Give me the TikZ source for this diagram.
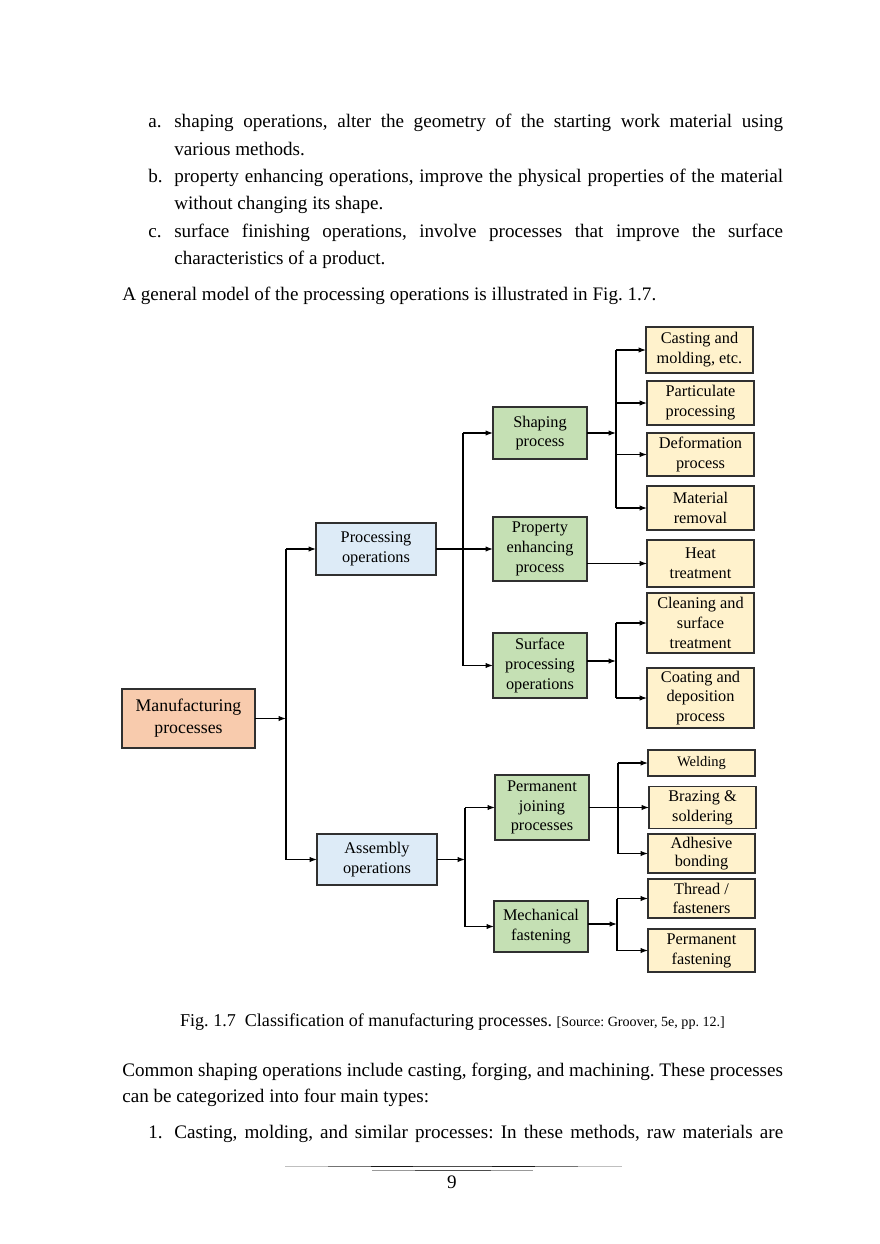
\documentclass[tikz,border=0pt]{standalone}
\usepackage{fontspec}
\setmainfont{Liberation Serif}
\usetikzlibrary{arrows.meta}
\frenchspacing
\definecolor{salmon}{HTML}{F8CBAD}
\definecolor{lblue}{HTML}{DDEBF7}
\definecolor{lgreen}{HTML}{C5E0B4}
\definecolor{lyellow}{HTML}{FFF2CC}
\definecolor{bord}{HTML}{303030}
\tikzset{
  box/.style={draw=bord, line width=0.8pt, inner sep=0pt, outer sep=0pt, align=center,
    font=\fontsize{11}{13.4}\selectfont, text=black},
  manbox/.style={box, fill=salmon, minimum width=89.8pt, font=\fontsize{12}{14.8}\selectfont},
  opbox/.style={box, fill=lblue, minimum width=81pt},
  grbox/.style={box, fill=lgreen, minimum width=63.5pt},
  ylbox/.style={box, fill=lyellow, minimum width=72.2pt},
  arr/.style={draw=black, line width=0.7pt, -{Latex[length=5pt,width=3.6pt]}},
  conn/.style={draw=black, line width=0.7pt},
  body/.style={anchor=base west, inner sep=0pt, font=\fontsize{12.9}{18}\selectfont},
}
\begin{document}
\begin{tikzpicture}[x=0.675pt,y=-0.675pt]
\useasboundingbox (0,0) rectangle (880,1244);
\fill[white] (0,0) rectangle (880,1244);

% ---- body text ----
\node[body] (la) at (148,127.5) {a.};
\node[body] (t1) at (174,127.5) {\makebox[411pt][s]{shaping operations, alter the geometry of the starting work material using}};
\node[body] (t2) at (174,155) {various methods.};
\node[body] (lb) at (148,182) {b.};
\node[body] (t3) at (174,182) {\makebox[411pt][s]{property enhancing operations, improve the physical properties of the material}};
\node[body] (t4) at (174,209.5) {without changing its shape.};
\node[body] (lc) at (148,237) {c.};
\node[body] (t5) at (174,237) {\makebox[411pt][s]{surface finishing operations, involve processes that improve the surface}};
\node[body] (t6) at (174,264.5) {characteristics of a product.};
\node[body] (t7) at (122,300) {A general model of the processing operations is illustrated in Fig. 1.7.};

\node[anchor=base, inner sep=0pt, font=\fontsize{12.2}{14}\selectfont] (cap) at (452.5,1026)
  {Fig. 1.7\ \ Classification of manufacturing processes. {\fontsize{9.5}{11}\selectfont[Source: Groover, 5e, pp. 12.]}};

\node[body] (t8) at (122,1076) {\makebox[446pt][s]{Common shaping operations include casting, forging, and machining. These processes}};
\node[body] (t9) at (122,1102) {can be categorized into four main types:};
\node[body] (l1) at (148,1138) {1.};
\node[body] (t10) at (174,1138) {\makebox[411pt][s]{Casting, molding, and similar processes: In these methods, raw materials are}};

% footer rules
\draw[line width=0.6pt, black!25] (285,1166) -- (328,1166);
\draw[line width=0.6pt, black!55] (328,1166) -- (371,1166);
\draw[line width=0.6pt, black!90] (371,1166) -- (413,1166);
\draw[line width=0.6pt, black!70] (413,1166) -- (492,1166);
\draw[line width=0.6pt, black!90] (492,1166) -- (535,1166);
\draw[line width=0.6pt, black!55] (535,1166) -- (578,1166);
\draw[line width=0.6pt, black!25] (578,1166) -- (622,1166);
\draw[line width=0.6pt, black!40] (372,1170) -- (415,1170);
\draw[line width=0.6pt, black!70] (415,1170) -- (491,1170);
\draw[line width=0.6pt, black!40] (491,1170) -- (533,1170);
\node[anchor=base, inner sep=0pt, font=\fontsize{12.9}{14}\selectfont] (pg) at (452,1188) {9};

% ---- diagram boxes ----
\node[manbox, minimum height=39.8pt] (man) at (188.5,718.5) {Manufacturing\\processes};
\node[opbox, minimum height=35.1pt] (proc) at (376,549) {Processing\\operations};
\node[opbox, minimum height=34.4pt] (asm) at (377,859.5) {Assembly\\operations};

\node[grbox, minimum height=35.1pt] (shp) at (540,433) {Shaping\\process};
\node[grbox, minimum height=43.2pt] (prop) at (540,549) {Property\\enhancing\\process};
\node[grbox, minimum height=43.9pt] (surf) at (540,665.5) {Surface\\processing\\operations};
\node[grbox, minimum height=43.9pt] (perm) at (542,807.5) {Permanent\\joining\\processes};
\node[grbox, minimum height=34.4pt] (mech) at (541,926.5) {Mechanical\\fastening};

\node[ylbox, minimum height=31pt] (cast) at (699.5,350) {Casting and\\molding, etc.};
\node[ylbox, minimum height=29.7pt] (part) at (700.5,403) {Particulate\\processing};
\node[ylbox, minimum height=29pt] (defo) at (700.5,454.5) {Deformation\\process};
\node[ylbox, minimum height=29.7pt] (matr) at (700.5,508) {Material\\removal};
\node[ylbox, minimum height=31.7pt] (heat) at (700.5,563.5) {Heat\\treatment};
\node[ylbox, minimum height=40.5pt] (clean) at (700.5,623) {Cleaning and\\surface\\treatment};
\node[ylbox, minimum height=40.5pt] (coat) at (700.5,698) {Coating and\\deposition\\process};
\node[ylbox, minimum height=17.6pt, font=\fontsize{9.8}{11}\selectfont] (weld) at (701.5,763) {Welding};
\node[ylbox, minimum height=28.4pt] (braz) at (702.5,807.5) {Brazing \&\\soldering};
\node[ylbox, minimum height=26.3pt, font=\fontsize{11}{12.5}\selectfont] (adh) at (701.5,853.5) {Adhesive\\bonding};
\node[ylbox, minimum height=26.3pt, font=\fontsize{11}{12.5}\selectfont] (thr) at (701.5,898.5) {Thread /\\fasteners};
\node[ylbox, minimum height=29pt] (pfas) at (701.5,950.5) {Permanent\\fastening};

% ---- connectors ----
\coordinate (j1) at (286,718.5);
\draw[arr] (man.east) -- (j1);
\draw[conn] (j1 |- proc.west) -- (j1 |- asm.west);
\draw[arr] (j1 |- proc.west) -- (proc.west);
\draw[arr] (j1 |- asm.west) -- (asm.west);

\coordinate (j2) at (463,549);
\draw[arr] (proc.east) -- (prop.west);
\draw[conn] (j2 |- shp.west) -- (j2 |- surf.west);
\draw[arr] (j2 |- shp.west) -- (shp.west);
\draw[arr] (j2 |- surf.west) -- (surf.west);

\coordinate (j3) at (465,859.5);
\draw[arr] (asm.east) -- (j3);
\draw[conn] (j3 |- perm.west) -- (j3 |- mech.west);
\draw[arr] (j3 |- perm.west) -- (perm.west);
\draw[arr] (j3 |- mech.west) -- (mech.west);

\coordinate (j4) at (616,433);
\draw[arr] (shp.east) -- (j4);
\draw[conn] (j4 |- cast.west) -- (j4 |- matr.west);
\foreach \t in {cast,part,defo,matr} \draw[arr] (j4 |- \t.west) -- (\t.west);

\draw[arr] (prop.east |- heat.west) -- (heat.west);

\coordinate (j5) at (616,661);
\draw[arr] (surf.east |- j5) -- (j5);
\draw[conn] (j5 |- clean.west) -- (j5 |- coat.west);
\draw[arr] (j5 |- clean.west) -- (clean.west);
\draw[arr] (j5 |- coat.west) -- (coat.west);

\coordinate (j6) at (618,807.5);
\draw[arr] (perm.east) -- (braz.west);
\draw[conn] (j6 |- weld.west) -- (j6 |- adh.west);
\draw[arr] (j6 |- weld.west) -- (weld.west);
\draw[arr] (j6 |- adh.west) -- (adh.west);

\coordinate (j7) at (617,924);
\draw[arr] (mech.east |- j7) -- (j7);
\draw[conn] (j7 |- thr.west) -- (j7 |- pfas.west);
\draw[arr] (j7 |- thr.west) -- (thr.west);
\draw[arr] (j7 |- pfas.west) -- (pfas.west);
\end{tikzpicture}
\end{document}
